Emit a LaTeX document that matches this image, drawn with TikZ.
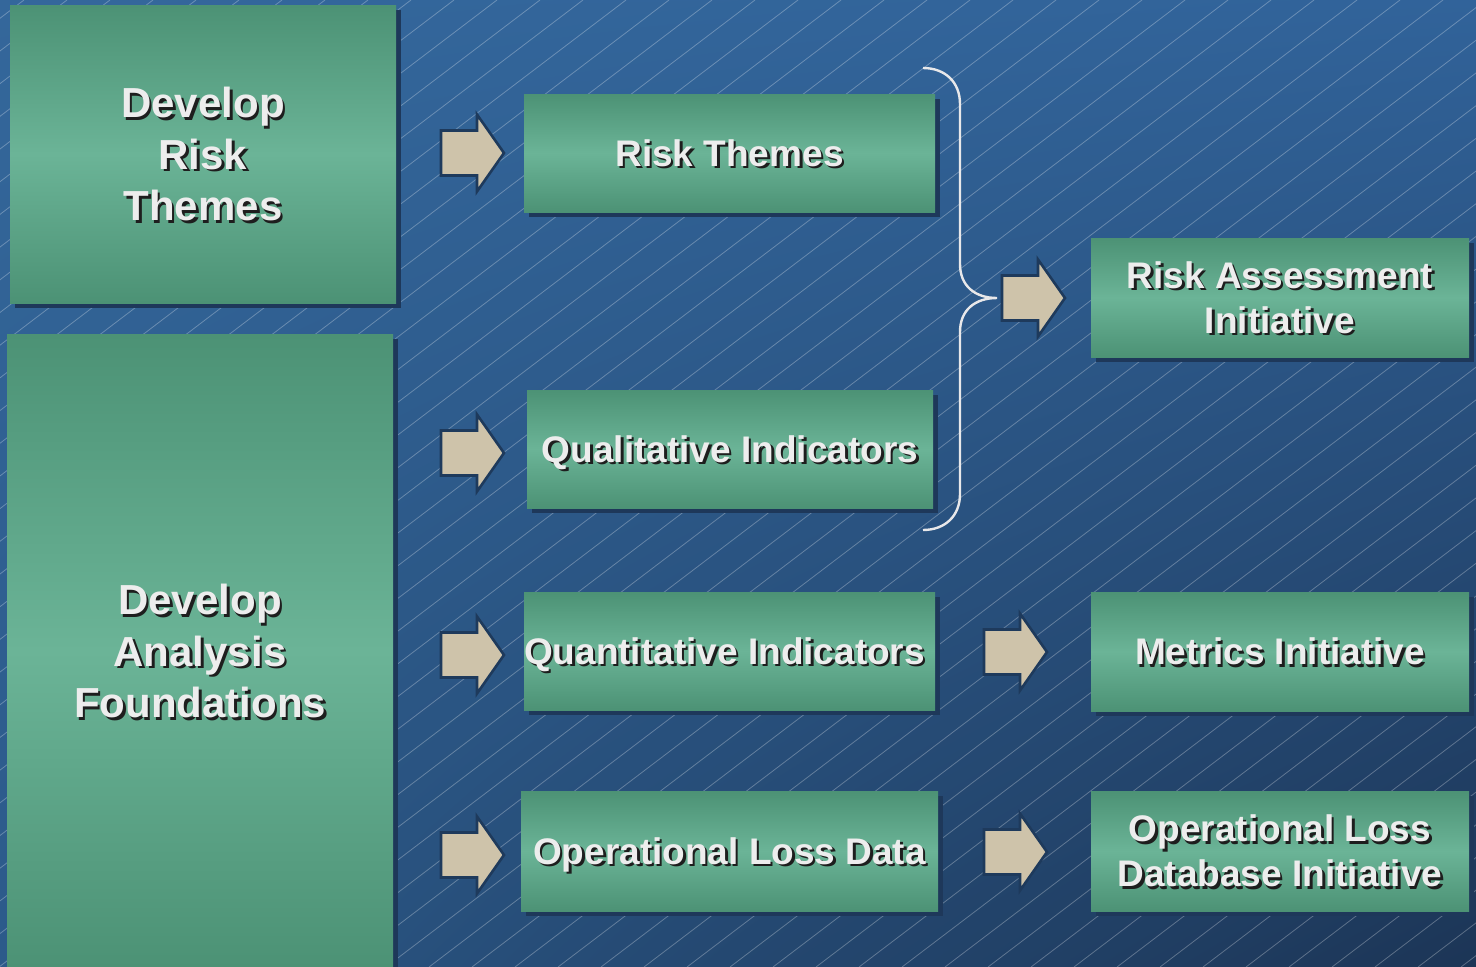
\documentclass[tikz,border=0pt]{standalone}
\usepackage{fontspec}
\setmainfont{Liberation Sans}
\usetikzlibrary{shadings,shadows}

\definecolor{bgUL}{HTML}{34679B}
\definecolor{bgUR}{HTML}{31639A}
\definecolor{bgLL}{HTML}{2C5A8A}
\definecolor{bgLR}{HTML}{1C3556}
\definecolor{boxdark}{HTML}{4C9275}
\definecolor{boxlight}{HTML}{6BB497}
\definecolor{boxshadow}{HTML}{1E385A}
\definecolor{arrowfill}{HTML}{CEC3AA}
\definecolor{arrowline}{HTML}{1E3A5C}
\definecolor{txtc}{HTML}{EDEDED}
\definecolor{txtshadow}{HTML}{1E1E1E}
\definecolor{bracec}{HTML}{E8E8EA}

% one green panel: frame node, dark text shadow, light text
\newcommand\panelbox[6]{%
  \node[panel,minimum width=#3,minimum height=#4] (#1) at #2 {};
  \node[ptext,text=txtshadow,#6] (#1-s) at ([xshift=2.5pt,yshift=-2.5pt]#1.center) {#5};
  \node[ptext,#6] (#1-t) at (#1.center) {#5};
}

\tikzset{
  panel/.style={rectangle,inner sep=0pt,
    top color=boxdark,bottom color=boxdark,middle color=boxlight,
    drop shadow={shadow xshift=5pt,shadow yshift=-5pt,fill=boxshadow,opacity=1}},
  ptext/.style={inner sep=0pt,align=center,text=txtc,
    font=\bfseries\fontsize{37}{45}\selectfont},
  oneline/.style={text height=26.5pt,text depth=0pt},
  bigtext/.style={font=\bfseries\fontsize{42}{51.5}\selectfont},
  hatch/.style={white,opacity=0.28,line width=0.8pt},
  bracestyle/.style={bracec,line width=2.4pt},
  pics/blockarr/.style={code={
    \draw[fill=arrowfill,draw=arrowline,line width=2.6pt,line join=miter]
      (0,-22.5) -- (36,-22.5) -- (36,-38.5) -- (63,0) -- (36,38.5)
      -- (36,22.5) -- (0,22.5) -- cycle;}}
}

\begin{document}
\begin{tikzpicture}[x=1pt,y=-1pt]
\useasboundingbox (0,0) rectangle (1476,967);
\clip (0,0) rectangle (1476,967);

% background with fine diagonal rules
\shade[upper left=bgUL,upper right=bgUR,lower left=bgLL,lower right=bgLR]
  (0,0) rectangle (1476,967);
\foreach \c in {24,67,...,2800}
  \draw[hatch] (\c,0) -- ++(-1272,967);

% left column
\panelbox{drt}{(203,154)}{386pt}{298pt}{Develop\\Risk\\Themes}{bigtext}
\panelbox{daf}{(200,651)}{386pt}{634pt}{Develop\\Analysis\\Foundations}{bigtext}

% middle column
\panelbox{rt}{(729.5,153)}{411pt}{118pt}{Risk Themes}{oneline}
\panelbox{qi}{(730,449)}{406pt}{118pt}{Qualitative Indicators}{oneline}
\panelbox{qn}{(729.5,651)}{411pt}{118pt}{Quantitative Indicators}{oneline,xshift=-5pt}
\panelbox{old}{(729.5,851)}{417pt}{120pt}{Operational Loss Data}{oneline}

% right column
\panelbox{rai}{(1280,297.5)}{378pt}{119pt}{Risk Assessment\\Initiative}{}
\panelbox{mi}{(1280,651.5)}{378pt}{119pt}{Metrics Initiative}{oneline}
\panelbox{oldi}{(1280,851)}{378pt}{120pt}{Operational Loss\\Database Initiative}{}

% block arrows
\coordinate (a1) at (441,153);
\coordinate (a2) at (441,453);
\coordinate (a3) at (441,655);
\coordinate (a4) at (441,855);
\coordinate (a5) at (1002,298);
\coordinate (a6) at (984,652);
\coordinate (a7) at (984,852);
\foreach \p in {a1,a2,a3,a4,a5,a6,a7}
  \pic at (\p) {blockarr};

% brace joining the first two themes
\coordinate (brTop) at (923,68);
\coordinate (brTip) at (997,298);
\coordinate (brBot) at (923,530);
\draw[bracestyle] (brTop) .. controls (945,68) and (960,82) .. (960,104)
  -- (960,264) .. controls (960,286) and (975,298) .. (brTip)
  .. controls (975,298) and (960,310) .. (960,332)
  -- (960,494) .. controls (960,516) and (945,530) .. (brBot);
\end{tikzpicture}
\end{document}
